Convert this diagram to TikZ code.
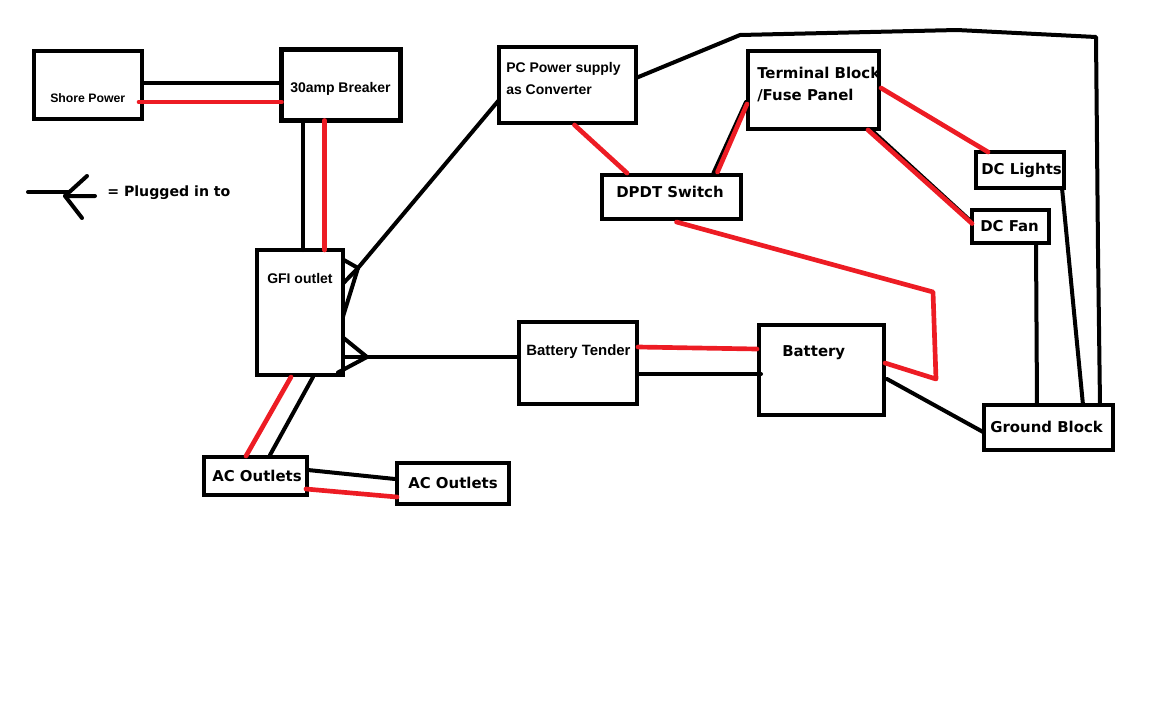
\documentclass[tikz,border=0pt]{standalone}
\usepackage{fontspec}
\setmainfont{DejaVu Sans}
\newfontfamily\smallface{Liberation Sans}
\definecolor{wirered}{HTML}{ED1C24}
\tikzset{
  boxnode/.style={draw=black,line width=3.4pt,rectangle,inner sep=0pt,outer sep=0pt},
  blackwire/.style={draw=black,line width=3pt,line cap=round,line join=round},
  thinwire/.style={draw=black,line width=2.2pt,line cap=round,line join=round},
  redwire/.style={draw=wirered,line width=3.5pt,line cap=round,line join=round},
  biglabel/.style={font=\fontsize{11.2pt}{13pt}\bfseries,anchor=west,inner sep=0pt,text=black,yshift=-0.2pt},
  smalllabel/.style={font=\smallface\fontsize{10.5pt}{12pt}\bfseries,anchor=west,inner sep=0pt,text=black,yshift=-0.8pt}
}
\newcommand{\placebox}[5]{\node[boxnode,minimum width={(#4-#2)*0.75pt},minimum height={(#5-#3)*0.75pt}] (#1) at ({(#2+#4)/2},{(#3+#5)/2}) {};}
\begin{document}
\begin{tikzpicture}[x=0.75pt,y=-0.75pt]
\useasboundingbox (0,0) rectangle (1160,718);
% labels
\node[smalllabel,font=\smallface\fontsize{9.2pt}{10pt}\bfseries] (tshore) at (50,97) {Shore Power};
\node[smalllabel] (tbreak) at (290,88) {30amp Breaker};
\node[smalllabel] (tgfi) at (267,277) {GFI outlet};
\node[smalllabel] (tpc1) at (506,68) {PC Power supply};
\node[smalllabel] (tpc2) at (506,89) {as Converter};
\node[biglabel] (tterm1) at (757,73) {Terminal Block};
\node[biglabel] (tterm2) at (757,95) {/Fuse Panel};
\node[biglabel] (tdpdt) at (616,192) {DPDT Switch};
\node[biglabel] (tlights) at (981,170) {DC Lights};
\node[biglabel] (tfan) at (980,226) {DC Fan};
\node[biglabel] (tground) at (990,427) {Ground Block};
\node[biglabel] (tbatt) at (782,352) {Battery};
\node[smalllabel,font=\smallface\fontsize{11.2pt}{13pt}\bfseries] (ttender) at (526,351) {Battery Tender};
\node[biglabel] (tac1) at (212,476) {AC Outlets};
\node[biglabel] (tac2) at (408,483) {AC Outlets};
\node[biglabel,font=\fontsize{10.6pt}{13pt}\bfseries] (tlegend) at (107,192) {= Plugged in to};
% boxes
\placebox{shore}{34}{51}{142}{119}
\placebox{breaker}{281.5}{49.5}{400.5}{120.5}
\placebox{pc}{499}{47}{636}{123}
\placebox{term}{748}{51}{879}{129}
\placebox{dpdt}{602}{175}{741}{219}
\placebox{lights}{976}{152}{1064}{188}
\placebox{fan}{972}{210}{1049}{243}
\placebox{gfi}{257}{250}{343}{375}
\placebox{acone}{204}{457}{307}{495}
\placebox{actwo}{397}{463}{509}{504}
\placebox{tender}{519}{322}{637}{404}
\placebox{battery}{759}{325}{884}{415}
\placebox{ground}{984}{405}{1113}{450}
% junction points
\coordinate (plugA) at (358,268);
\coordinate (plugB) at (367,357);
\coordinate (top1) at (740,35);
\coordinate (top2) at (957,30);
\coordinate (top3) at (1096,37);
\coordinate (mid) at (1098,250);
\coordinate (redA) at (933,292);
\coordinate (redB) at (936,379);
\coordinate (legA) at (28,192);
\coordinate (legB) at (68,192);
\coordinate (legC) at (65,196);
\coordinate (legD) at (87,176);
\coordinate (legE) at (95,196);
\coordinate (legF) at (82,218);
% black wires
\draw[blackwire] ([shift={(0,-2)}]shore.east) -- ([shift={(0,-2)}]breaker.west);
\draw[blackwire] ([shift={(-38,0)}]breaker.south) -- ([shift={(3,0)}]gfi.north);
\draw[blackwire] ([shift={(0,15)}]pc.west) -- (plugA);
\draw[blackwire] (plugA) -- ([shift={(0,-53)}]gfi.east);
\draw[blackwire] (plugA) -- ([shift={(0,-29)}]gfi.east);
\draw[blackwire] (plugA) -- ([shift={(0,4)}]gfi.east);
\draw[blackwire] (plugB) -- ([shift={(0,-6)}]tender.west);
\draw[blackwire] (plugB) -- ([shift={(0,25)}]gfi.east);
\draw[blackwire] (plugB) -- ([shift={(0,44.5)}]gfi.east);
\draw[blackwire] (plugB) -- ([shift={(-5,60)}]gfi.east);
\draw[blackwire] ([shift={(13,2)}]gfi.south) -- ([shift={(14.5,-2)}]acone.north);
\draw[blackwire] ([shift={(1,-6)}]acone.east) -- ([shift={(-2,-4.5)}]actwo.west);
\draw[blackwire] ([shift={(0,-7)}]pc.east) -- (top1) -- (top2) -- (top3) -- (mid) -- ([shift={(51.5,0)}]ground.north);
\draw[blackwire] ([shift={(42,-2)}]dpdt.north) -- ([shift={(-2,12)}]term.west);
\draw[thinwire] ([shift={(-8,0)}]term.south east) -- ([shift={(0,-5)}]fan.west);
\draw[blackwire] ([shift={(25.5,0)}]fan.south) -- ([shift={(-11.5,0)}]ground.north);
\draw[blackwire] ([shift={(-2,0)}]lights.south east) -- ([shift={(34.5,0)}]ground.north);
\draw[blackwire] ([shift={(0,11)}]tender.east) -- ([shift={(2,4)}]battery.west);
\draw[blackwire] ([shift={(3,9)}]battery.east) -- ([shift={(0,5)}]ground.west);
\draw[blackwire] (legA) -- (legB);
\draw[blackwire] (legD) -- (legC) -- (legE);
\draw[blackwire] (legC) -- (legF);
% red wires
\draw[redwire] ([shift={(-3,17)}]shore.east) -- ([shift={(0,17)}]breaker.west);
\draw[redwire] ([shift={(-16.5,0)}]breaker.south) -- ([shift={(24.5,0)}]gfi.north);
\draw[redwire] ([shift={(-9,2)}]gfi.south) -- ([shift={(-9.5,-1)}]acone.north);
\draw[redwire] ([shift={(-1,13)}]acone.east) -- ([shift={(0,13.5)}]actwo.west);
\draw[redwire] ([shift={(7,2)}]pc.south) -- ([shift={(-44.5,-2)}]dpdt.north);
\draw[redwire] ([shift={(46,-3)}]dpdt.north) -- ([shift={(-1,14)}]term.west);
\draw[redwire] ([shift={(2,-2)}]term.east) -- ([shift={(-32,0)}]lights.north);
\draw[redwire] ([shift={(-11,1)}]term.south east) -- ([shift={(0,-3)}]fan.west);
\draw[redwire] ([shift={(5,3)}]dpdt.south) -- (redA) -- (redB) -- ([shift={(1,-7)}]battery.east);
\draw[redwire] ([shift={(1,-16)}]tender.east) -- ([shift={(-2,-21)}]battery.west);
\end{tikzpicture}
\end{document}
